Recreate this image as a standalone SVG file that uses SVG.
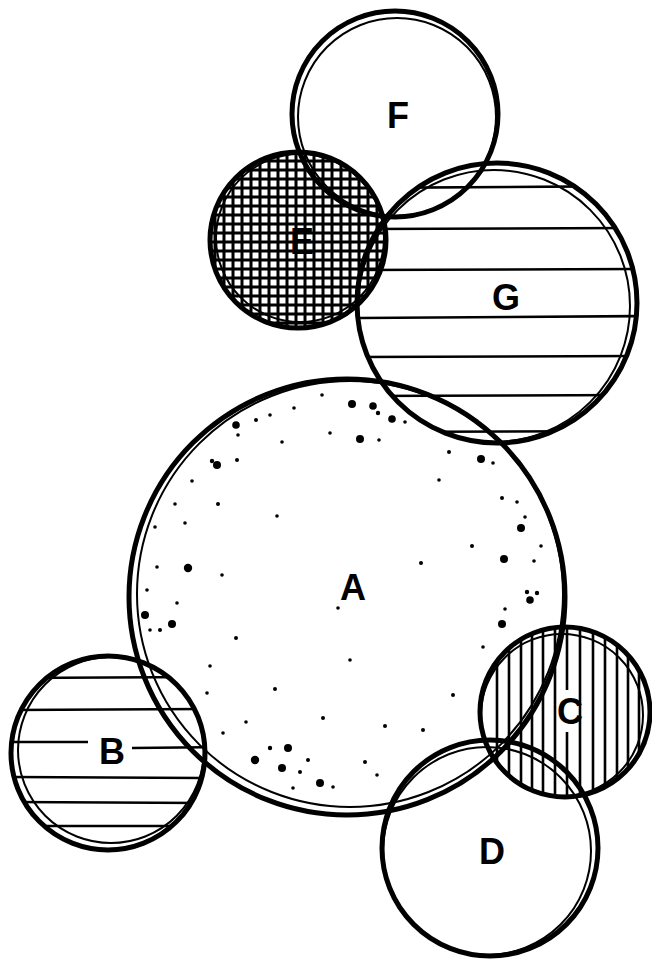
<svg xmlns="http://www.w3.org/2000/svg" width="652" height="966" viewBox="0 0 652 966">
<style>
.o{fill:none;stroke:#000;stroke-width:5}
.i{fill:none;stroke:#000;stroke-width:2}
.h{stroke:#000;stroke-width:2.6}
.g{stroke:#000;stroke-width:3}
.lb{font-family:"Liberation Sans",Arial,sans-serif;font-weight:bold;font-size:36px;fill:#000;text-anchor:middle}
.d circle{fill:#000}
</style>
<defs>
<clipPath id="cE"><circle cx="298" cy="240" r="87"/></clipPath>
<clipPath id="cG"><circle cx="497" cy="303" r="139"/></clipPath>
<clipPath id="cB"><circle cx="108" cy="753" r="96"/></clipPath>
<clipPath id="cC"><circle cx="565" cy="712" r="84"/></clipPath>
</defs>
<rect width="652" height="966" fill="#fff"/>

<g id="G">
<g clip-path="url(#cG)">
<line class="h" x1="350" y1="188" x2="650" y2="186"/>
<line class="h" x1="350" y1="229" x2="650" y2="228"/>
<line class="h" x1="350" y1="270" x2="650" y2="269"/>
<line class="h" x1="350" y1="318" x2="650" y2="316"/>
<line class="h" x1="350" y1="357" x2="650" y2="356"/>
<line class="h" x1="350" y1="396" x2="650" y2="395"/>
<line class="h" x1="350" y1="432" x2="650" y2="431"/>
</g>
<circle class="o" cx="497" cy="303" r="140"/>
<circle class="i" cx="494" cy="306" r="136"/>
<text class="lb" x="506" y="310">G</text>
</g>

<g id="F">
<circle class="o" cx="395" cy="114" r="103"/>
<circle class="i" cx="397" cy="117" r="99"/>
<text class="lb" x="398" y="128">F</text>
</g>

<g id="E">
<g clip-path="url(#cE)">
<g class="g">
<line x1="215" y1="150" x2="215" y2="330"/><line x1="224" y1="150" x2="224" y2="330"/><line x1="233" y1="150" x2="233" y2="330"/><line x1="242" y1="150" x2="242" y2="330"/><line x1="251" y1="150" x2="251" y2="330"/><line x1="260" y1="150" x2="260" y2="330"/><line x1="269" y1="150" x2="269" y2="330"/><line x1="278" y1="150" x2="278" y2="330"/><line x1="287" y1="150" x2="287" y2="330"/><line x1="296" y1="150" x2="296" y2="330"/><line x1="305" y1="150" x2="305" y2="330"/><line x1="314" y1="150" x2="314" y2="330"/><line x1="323" y1="150" x2="323" y2="330"/><line x1="332" y1="150" x2="332" y2="330"/><line x1="341" y1="150" x2="341" y2="330"/><line x1="350" y1="150" x2="350" y2="330"/><line x1="359" y1="150" x2="359" y2="330"/><line x1="368" y1="150" x2="368" y2="330"/><line x1="377" y1="150" x2="377" y2="330"/><line x1="386" y1="150" x2="386" y2="330"/>
<line x1="205" y1="161" x2="390" y2="161"/><line x1="205" y1="170" x2="390" y2="170"/><line x1="205" y1="179" x2="390" y2="179"/><line x1="205" y1="188" x2="390" y2="188"/><line x1="205" y1="197" x2="390" y2="197"/><line x1="205" y1="206" x2="390" y2="206"/><line x1="205" y1="215" x2="390" y2="215"/><line x1="205" y1="224" x2="390" y2="224"/><line x1="205" y1="233" x2="390" y2="233"/><line x1="205" y1="242" x2="390" y2="242"/><line x1="205" y1="251" x2="390" y2="251"/><line x1="205" y1="260" x2="390" y2="260"/><line x1="205" y1="269" x2="390" y2="269"/><line x1="205" y1="278" x2="390" y2="278"/><line x1="205" y1="287" x2="390" y2="287"/><line x1="205" y1="296" x2="390" y2="296"/><line x1="205" y1="305" x2="390" y2="305"/><line x1="205" y1="314" x2="390" y2="314"/><line x1="205" y1="323" x2="390" y2="323"/>
</g>
</g>
<circle class="o" cx="298" cy="240" r="88" stroke-width="7"/>
<circle class="i" cx="300" cy="238" r="84"/>
<text class="lb" x="302" y="254" font-size="30">E</text>
</g>

<g id="A">
<circle class="o" cx="347" cy="597" r="218"/>
<circle class="i" cx="350" cy="594" r="213"/>
<g class="d">
<circle cx="322" cy="395" r="1.8"/><circle cx="352" cy="404" r="4"/><circle cx="373" cy="406" r="3.8"/><circle cx="378" cy="413" r="2.2"/><circle cx="392" cy="419" r="3.8"/><circle cx="405" cy="422" r="1.8"/><circle cx="294" cy="408" r="1.8"/><circle cx="270" cy="415" r="1.8"/><circle cx="256" cy="420" r="2"/><circle cx="236" cy="425" r="3.8"/><circle cx="238" cy="435" r="1.8"/><circle cx="282" cy="442" r="1.8"/><circle cx="330" cy="433" r="1.8"/><circle cx="360" cy="439" r="4"/><circle cx="379" cy="440" r="1.8"/><circle cx="449" cy="452" r="2"/><circle cx="481" cy="459" r="4"/><circle cx="493" cy="463" r="1.8"/><circle cx="217" cy="465" r="4"/><circle cx="212" cy="461" r="2.2"/><circle cx="237" cy="460" r="2"/><circle cx="192" cy="481" r="1.8"/><circle cx="439" cy="480" r="1.8"/><circle cx="502" cy="498" r="2"/><circle cx="517" cy="502" r="1.8"/><circle cx="175" cy="504" r="1.8"/><circle cx="218" cy="504" r="2"/><circle cx="277" cy="516" r="1.8"/><circle cx="525" cy="517" r="1.8"/><circle cx="521" cy="528" r="4"/><circle cx="185" cy="523" r="1.8"/><circle cx="155" cy="527" r="1.8"/><circle cx="472" cy="546" r="2"/><circle cx="541" cy="546" r="1.8"/><circle cx="504" cy="559" r="4"/><circle cx="421" cy="563" r="2"/><circle cx="534" cy="561" r="1.8"/><circle cx="188" cy="568" r="4.2"/><circle cx="157" cy="567" r="1.8"/><circle cx="222" cy="575" r="1.8"/><circle cx="147" cy="590" r="1.8"/><circle cx="527" cy="592" r="2.2"/><circle cx="537" cy="593" r="2.2"/><circle cx="530" cy="600" r="3.8"/><circle cx="177" cy="603" r="1.8"/><circle cx="505" cy="609" r="1.8"/><circle cx="145" cy="615" r="4"/><circle cx="172" cy="624" r="4"/><circle cx="160" cy="630" r="2"/><circle cx="150" cy="630" r="1.8"/><circle cx="502" cy="624" r="4"/><circle cx="236" cy="638" r="2"/><circle cx="483" cy="647" r="1.8"/><circle cx="350" cy="660" r="1.8"/><circle cx="210" cy="666" r="1.8"/><circle cx="275" cy="689" r="2"/><circle cx="207" cy="693" r="1.8"/><circle cx="453" cy="695" r="2"/><circle cx="323" cy="718" r="2"/><circle cx="246" cy="722" r="1.8"/><circle cx="385" cy="726" r="2"/><circle cx="423" cy="730" r="2"/><circle cx="223" cy="733" r="1.8"/><circle cx="288" cy="748" r="4"/><circle cx="270" cy="748" r="2.2"/><circle cx="255" cy="760" r="4.2"/><circle cx="308" cy="760" r="2"/><circle cx="282" cy="768" r="4"/><circle cx="365" cy="762" r="2"/><circle cx="300" cy="772" r="2"/><circle cx="377" cy="775" r="1.8"/><circle cx="320" cy="783" r="4"/><circle cx="293" cy="788" r="1.8"/><circle cx="333" cy="787" r="1.8"/><circle cx="338" cy="608" r="1.8"/>
</g>
<text class="lb" x="353" y="600">A</text>
</g>

<g id="B">
<g clip-path="url(#cB)">
<line class="h" x1="0" y1="678" x2="220" y2="677"/>
<line class="h" x1="0" y1="710" x2="220" y2="709"/>
<line class="h" x1="0" y1="742" x2="88" y2="742"/>
<line class="h" x1="132" y1="748" x2="220" y2="747"/>
<line class="h" x1="0" y1="777" x2="220" y2="778"/>
<line class="h" x1="0" y1="802" x2="220" y2="803"/>
<line class="h" x1="0" y1="826" x2="220" y2="826"/>
</g>
<circle class="o" cx="108" cy="753" r="97"/>
<circle class="i" cx="111" cy="750" r="93"/>
<text class="lb" x="112" y="764">B</text>
</g>

<g id="C">
<g clip-path="url(#cC)">
<g class="h">
<line x1="497" y1="620" x2="497" y2="810"/><line x1="509" y1="620" x2="509" y2="810"/><line x1="521" y1="620" x2="521" y2="810"/><line x1="532" y1="620" x2="532" y2="810"/><line x1="543" y1="620" x2="543" y2="810"/><line x1="555" y1="620" x2="555" y2="810"/><line x1="567" y1="620" x2="567" y2="690"/><line x1="567" y1="732" x2="567" y2="810"/><line x1="580" y1="620" x2="580" y2="810"/><line x1="593" y1="620" x2="593" y2="810"/><line x1="605" y1="620" x2="605" y2="810"/><line x1="617" y1="620" x2="617" y2="810"/><line x1="628" y1="620" x2="628" y2="810"/><line x1="639" y1="620" x2="639" y2="810"/>
</g>
</g>
<circle class="o" cx="565" cy="712" r="85"/>
<circle class="i" cx="562" cy="715" r="81"/>
<text class="lb" x="570" y="724">C</text>
</g>

<g id="D">
<circle class="o" cx="490" cy="848" r="108"/>
<circle class="i" cx="487" cy="851" r="104"/>
<text class="lb" x="492" y="864">D</text>
</g>

<g id="connectors"></g>
</svg>
